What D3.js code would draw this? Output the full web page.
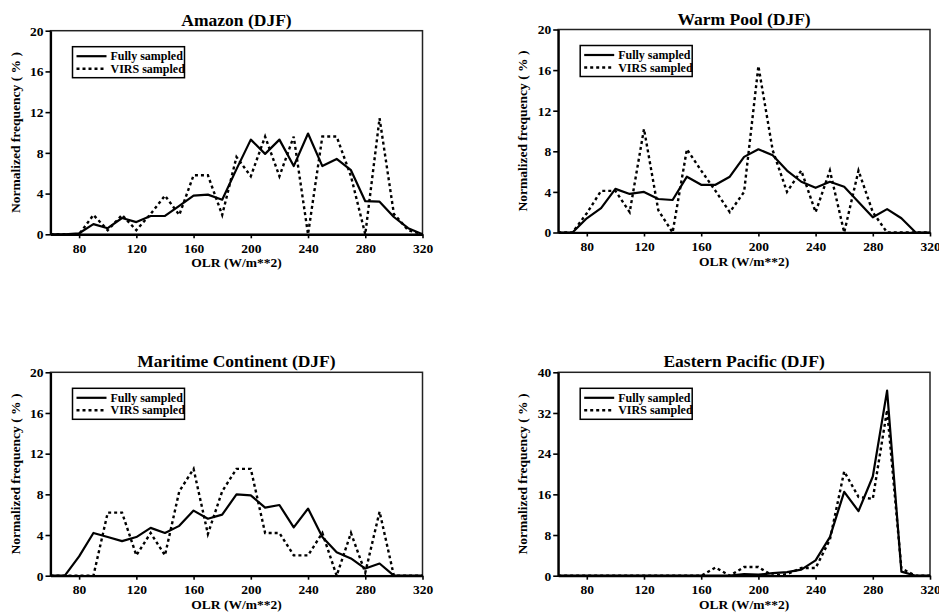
<!DOCTYPE html>
<html>
<head>
<meta charset="utf-8">
<script src="https://cdn.jsdelivr.net/npm/d3@7"></script>
<style>
  body { margin: 0; background: #fff; }
</style>
</head>
<body>
<div id="vis"></div>
<script>
// OLR bin centres (W/m**2)
var olrBins = [60, 70, 80, 90, 100, 110, 120, 130, 140, 150, 160, 170, 180, 190,
  200, 210, 220, 230, 240, 250, 260, 270, 280, 290, 300, 310, 320];

var amazonFull = [0, 0, 0.1, 1.0, 0.6, 1.6, 1.2, 1.8, 1.8, 2.8, 3.8, 3.9, 3.4, 6.4,
  9.3, 7.9, 9.3, 6.7, 9.9, 6.7, 7.4, 6.3, 3.25, 3.2, 1.7, 0.6, 0];
var amazonVirs = [0, 0, 0, 1.9, 0.4, 1.9, 0.4, 2.0, 3.8, 1.9, 5.8, 5.8, 1.9, 7.6,
  5.7, 9.6, 5.7, 9.6, 0, 9.6, 9.6, 5.7, 0, 11.4, 2.0, 0.4, 0];

var warmFull = [0, 0, 1.4, 2.4, 4.3, 3.8, 4.0, 3.3, 3.2, 5.5, 4.7, 4.7, 5.5, 7.45,
  8.2, 7.6, 6.1, 5.0, 4.4, 5.0, 4.5, 3.0, 1.5, 2.3, 1.4, 0, 0];
var warmVirs = [0, 0, 1.9, 4.1, 4.1, 2.0, 10.2, 2.2, 0, 8.2, 6.1, 4.1, 2.0, 4.0,
  16.4, 8.1, 4.0, 6.1, 2.0, 6.1, 0, 6.1, 2.0, 0, 0, 0, 0];

var maritimeFull = [0, 0, 1.9, 4.2, 3.8, 3.4, 3.8, 4.7, 4.2, 4.9, 6.4, 5.6, 6.0, 8.0,
  7.9, 6.7, 6.95, 4.75, 6.6, 3.8, 2.3, 1.7, 0.7, 1.2, 0, 0, 0];
var maritimeVirs = [0, 0, 0, 0, 6.2, 6.2, 2.0, 4.2, 2.0, 8.3, 10.5, 4.1, 8.3, 10.5,
  10.5, 4.2, 4.2, 2.0, 2.0, 4.2, 0, 4.2, 0.3, 6.3, 0, 0, 0];

var easternFull = [0, 0, 0, 0, 0, 0, 0, 0, 0, 0, 0, 0, 0, 0.3,
  0.2, 0.5, 0.7, 1.2, 3.0, 7.6, 16.5, 12.7, 19.5, 36.4, 0.8, 0, 0];
var easternVirs = [0, 0, 0, 0, 0, 0, 0, 0, 0, 0, 0, 1.6, 0, 1.7,
  1.7, 0, 0.3, 1.5, 1.5, 7.1, 20.5, 15.5, 15.1, 32.6, 1.4, 0, 0];

var xTicks = [80, 120, 160, 200, 240, 280, 320];
var yTicks20 = [0, 4, 8, 12, 16, 20];
var yTicks40 = [0, 8, 16, 24, 32, 40];

var legendLabels = ["Fully sampled", "VIRS sampled"];

var panels = [
  { title: "Amazon (DJF)", full: amazonFull, virs: amazonVirs, yMax: 20, yTicks: yTicks20,
    left: 50.5, right: 422.5, top: 30.7, bottom: 234.3 },
  { title: "Warm Pool (DJF)", full: warmFull, virs: warmVirs, yMax: 20, yTicks: yTicks20,
    left: 558.2, right: 930, top: 29.5, bottom: 232.5 },
  { title: "Maritime Continent (DJF)", full: maritimeFull, virs: maritimeVirs, yMax: 20, yTicks: yTicks20,
    left: 50.5, right: 422.5, top: 372.3, bottom: 575.7 },
  { title: "Eastern Pacific (DJF)", full: easternFull, virs: easternVirs, yMax: 40, yTicks: yTicks40,
    left: 558.2, right: 930, top: 372.3, bottom: 575.7 }
];

var serif = "'Liberation Serif', 'Times New Roman', serif";

var svg = d3.select("#vis").append("svg")
  .attr("width", 939)
  .attr("height", 615);

var dash = "3,3";

function label(sel, size) {
  return sel.style("font-family", serif)
    .style("font-weight", "bold")
    .style("font-size", size + "px")
    .attr("fill", "#000");
}

panels.forEach(function (p) {
  var x = d3.scaleLinear().domain([60, 320]).range([p.left, p.right]);
  var y = d3.scaleLinear().domain([0, p.yMax]).range([p.bottom, p.top]);
  var g = svg.append("g");

  // frame
  g.append("rect")
    .attr("x", p.left).attr("y", p.top)
    .attr("width", p.right - p.left).attr("height", p.bottom - p.top)
    .attr("fill", "none").attr("stroke", "#222").attr("stroke-width", 1.5);

  var line = d3.line()
    .x(function (d, i) { return x(olrBins[i]); })
    .y(function (d) { return y(d); });

  g.append("path").datum(p.virs)
    .attr("fill", "none").attr("stroke", "#000")
    .attr("stroke-width", 2.4).attr("stroke-dasharray", dash)
    .attr("d", line);

  g.append("path").datum(p.full)
    .attr("fill", "none").attr("stroke", "#000")
    .attr("stroke-width", 2.2).attr("stroke-linejoin", "round")
    .attr("d", line);

  // axes
  var xAxis = g.append("g")
    .attr("transform", "translate(0," + p.bottom + ")")
    .call(d3.axisBottom(x).tickValues(xTicks).tickSize(4).tickPadding(5).tickSizeOuter(0));
  var yAxis = g.append("g")
    .attr("transform", "translate(" + p.left + ",0)")
    .call(d3.axisLeft(y).tickValues(p.yTicks).tickSize(5).tickPadding(2).tickSizeOuter(0));

  [xAxis, yAxis].forEach(function (a) {
    a.select(".domain").attr("stroke", "#000").attr("stroke-width", 2.2);
    a.selectAll(".tick line").attr("stroke", "#000").attr("stroke-width", 1.6);
    label(a.selectAll("text"), 13.5);
  });

  var cx = (p.left + p.right) / 2;

  // title
  label(g.append("text"), 17.5)
    .attr("x", cx).attr("y", p.top - 5)
    .attr("text-anchor", "middle")
    .text(p.title);

  // axis titles
  label(g.append("text"), 13.5)
    .attr("x", cx).attr("y", p.bottom + 33)
    .attr("text-anchor", "middle")
    .text("OLR (W/m**2)");

  label(g.append("text"), 13.5)
    .attr("transform", "translate(" + (p.left - 31) + "," + ((p.top + p.bottom) / 2) + ") rotate(-90)")
    .attr("text-anchor", "middle")
    .text("Normalized frequency ( % )");

  // legend
  var lx = p.left + 22, ly = p.top + 16;
  var leg = g.append("g").attr("transform", "translate(" + lx + "," + ly + ")");
  leg.append("rect")
    .attr("width", 112).attr("height", 31)
    .attr("fill", "#fff").attr("stroke", "#000").attr("stroke-width", 1.5);
  legendLabels.forEach(function (lab, i) {
    var yy = 9.5 + i * 12.5;
    leg.append("line")
      .attr("x1", 4).attr("x2", 34).attr("y1", yy).attr("y2", yy)
      .attr("stroke", "#000").attr("stroke-width", i === 0 ? 2.2 : 2.4)
      .attr("stroke-dasharray", i === 0 ? null : dash);
    label(leg.append("text"), 12)
      .attr("x", 38).attr("y", yy + 4)
      .text(lab);
  });
});
</script>
</body>
</html>
